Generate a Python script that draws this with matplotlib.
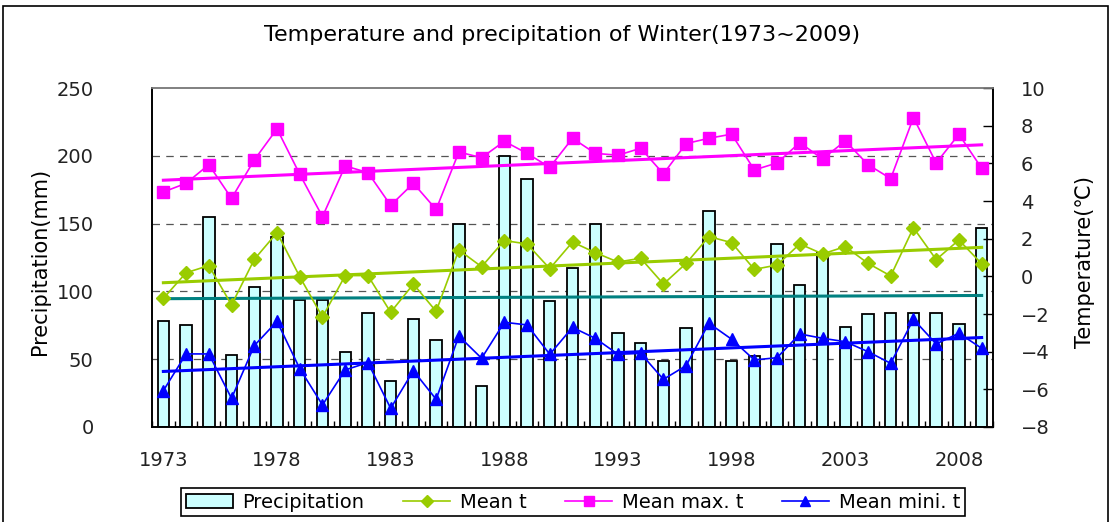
import matplotlib.pyplot as plt
import numpy as np
from matplotlib.patches import Rectangle, Patch
from matplotlib.lines import Line2D

years = list(range(1973, 2010))
precip = [78, 75, 155, 53, 103, 140, 94, 94, 55, 84, 34, 80, 64,
          150, 30, 200, 183, 93, 117, 150, 69, 62, 49, 73, 159, 49,
          52, 135, 105, 128, 74, 83, 84, 84, 84, 76, 147]
mean_t = [-1.17, 0.19, 0.57, -1.52, 0.9, 2.32, -0.02, -2.16, 0.04, 0.04, -1.91, -0.41, -1.86,
          1.4, 0.51, 1.9, 1.72, 0.41, 1.82, 1.26, 0.76, 0.96, -0.41, 0.69, 2.11, 1.79,
          0.37, 0.6, 1.72, 1.19, 1.58, 0.69, 0.02, 2.58, 0.89, 1.93, 0.67]
mean_max = [4.48, 4.94, 5.93, 4.14, 6.18, 7.83, 5.42, 3.17, 5.86, 5.51, 3.77, 4.94, 3.55,
            6.6, 6.3, 7.17, 6.53, 5.79, 7.33, 6.53, 6.43, 6.8, 5.44, 7.05, 7.33, 7.55,
            5.65, 6.02, 7.1, 6.23, 7.19, 5.93, 5.19, 8.43, 6.02, 7.54, 5.74]
mean_min = [-6.07, -4.12, -4.12, -6.48, -3.68, -2.39, -4.9, -6.83, -4.97, -4.58, -7.01, -5.01, -6.53,
            -3.17, -4.35, -2.44, -2.58, -4.14, -2.71, -3.29, -4.14, -4.09, -5.47, -4.74, -2.49, -3.34,
            -4.44, -4.32, -3.06, -3.29, -3.47, -4.0, -4.62, -2.28, -3.59, -3.02, -3.82]

plt.rcParams['font.family'] = 'DejaVu Sans'
txt = '#222222'

fig = plt.figure(figsize=(11.13, 5.22), dpi=100)
W, H = 1113, 522
ax = fig.add_axes([152 / W, 1 - 427 / H, (993 - 152) / W, (427 - 88) / H])
ax2 = ax.twinx()

x = np.arange(len(years))

def trend(vals):
    k, b = np.polyfit(x, vals, 1)
    return k * x + b

# precipitation bars + trend
ax.bar(x, precip, width=0.5, color='#CCFFFF', edgecolor='black', linewidth=1.3, zorder=2)
ax.plot(x, trend(precip), color='#008080', lw=2.2, zorder=3)
ax.set_ylim(0, 250)
ax.set_yticks([0, 50, 100, 150, 200, 250])
ax.set_xlim(-0.5, len(years) - 0.5)
for g in [50, 100, 150, 200]:
    ax.axhline(g, color='#555555', lw=0.9, dashes=(6, 5), zorder=1)

# temperature lines
ax2.plot(x, mean_t, color='#99CC00', lw=1.2, marker='D', ms=7, mec='#99CC00', zorder=4)
ax2.plot(x, mean_max, color='#FF00FF', lw=1.2, marker='s', ms=8.5, mec='#FF00FF', zorder=4)
ax2.plot(x, mean_min, color='#0000FF', lw=1.2, marker='^', ms=8, mec='#0000FF', zorder=4)
ax2.plot(x, trend(mean_t), color='#99CC00', lw=2.2, zorder=3)
ax2.plot(x, trend(mean_max), color='#FF00FF', lw=2.2, zorder=3)
ax2.plot(x, trend(mean_min), color='#0000FF', lw=2.2, zorder=3)
ax2.set_ylim(-8, 10)
ax2.set_yticks(range(-8, 11, 2))

# x axis: labels every 5 years, small inward ticks between categories
ax.set_xticks(x[::5])
ax.set_xticklabels([str(y) for y in years[::5]])
ax.set_xticks(np.arange(-0.5, len(years), 1), minor=True)
ax.tick_params(axis='x', which='major', length=0, pad=17, labelsize=14, labelcolor=txt)
ax.tick_params(axis='x', which='minor', direction='in', length=4, width=1, color='black')
ax.tick_params(axis='y', length=0, pad=42, labelsize=14, labelcolor=txt)
ax2.tick_params(axis='y', direction='in', length=7, width=1, pad=20, labelsize=14, labelcolor=txt)

for a in (ax, ax2):
    a.spines['top'].set_color('#808080')
    a.spines['left'].set_color('black')
    a.spines['right'].set_color('black')
    a.spines['bottom'].set_color('black')
    for s in a.spines.values():
        s.set_linewidth(1.2)

fig.text(562 / W, 1 - 35 / H, 'Temperature and precipitation of Winter(1973~2009)',
         ha='center', va='center', fontsize=16, color='black')
fig.text(40 / W, 1 - 355 / H, 'Precipitation(mm)', rotation=90, ha='center', va='bottom',
         fontsize=15, color='black')
fig.text(1085 / W, 1 - 348 / H, 'Temperature(℃)', rotation=90, ha='center', va='bottom',
         fontsize=15, color='black')

handles = [
    Patch(facecolor='#CCFFFF', edgecolor='black', linewidth=1.3),
    Line2D([], [], color='#99CC00', lw=1.2, marker='D', ms=6),
    Line2D([], [], color='#FF00FF', lw=1.2, marker='s', ms=7),
    Line2D([], [], color='#0000FF', lw=1.2, marker='^', ms=7),
]
labels = ['Precipitation', 'Mean t', 'Mean max. t', 'Mean mini. t']
leg = fig.legend(handles, labels, loc='center', ncol=4, bbox_to_anchor=(573 / W, 1 - 502 / H),
                 fontsize=14, frameon=True, fancybox=False, edgecolor='black', framealpha=1,
                 handlelength=2.4, columnspacing=2.0, handletextpad=0.5, borderpad=0.25)
leg.get_frame().set_linewidth(1.2)

fig.patches.append(Rectangle((3 / W, -0.1), (1108 - 3) / W, 1.1 - 6 / H, transform=fig.transFigure,
                             fill=False, edgecolor='black', linewidth=1.2))

fig.savefig('out.png', dpi=100)
